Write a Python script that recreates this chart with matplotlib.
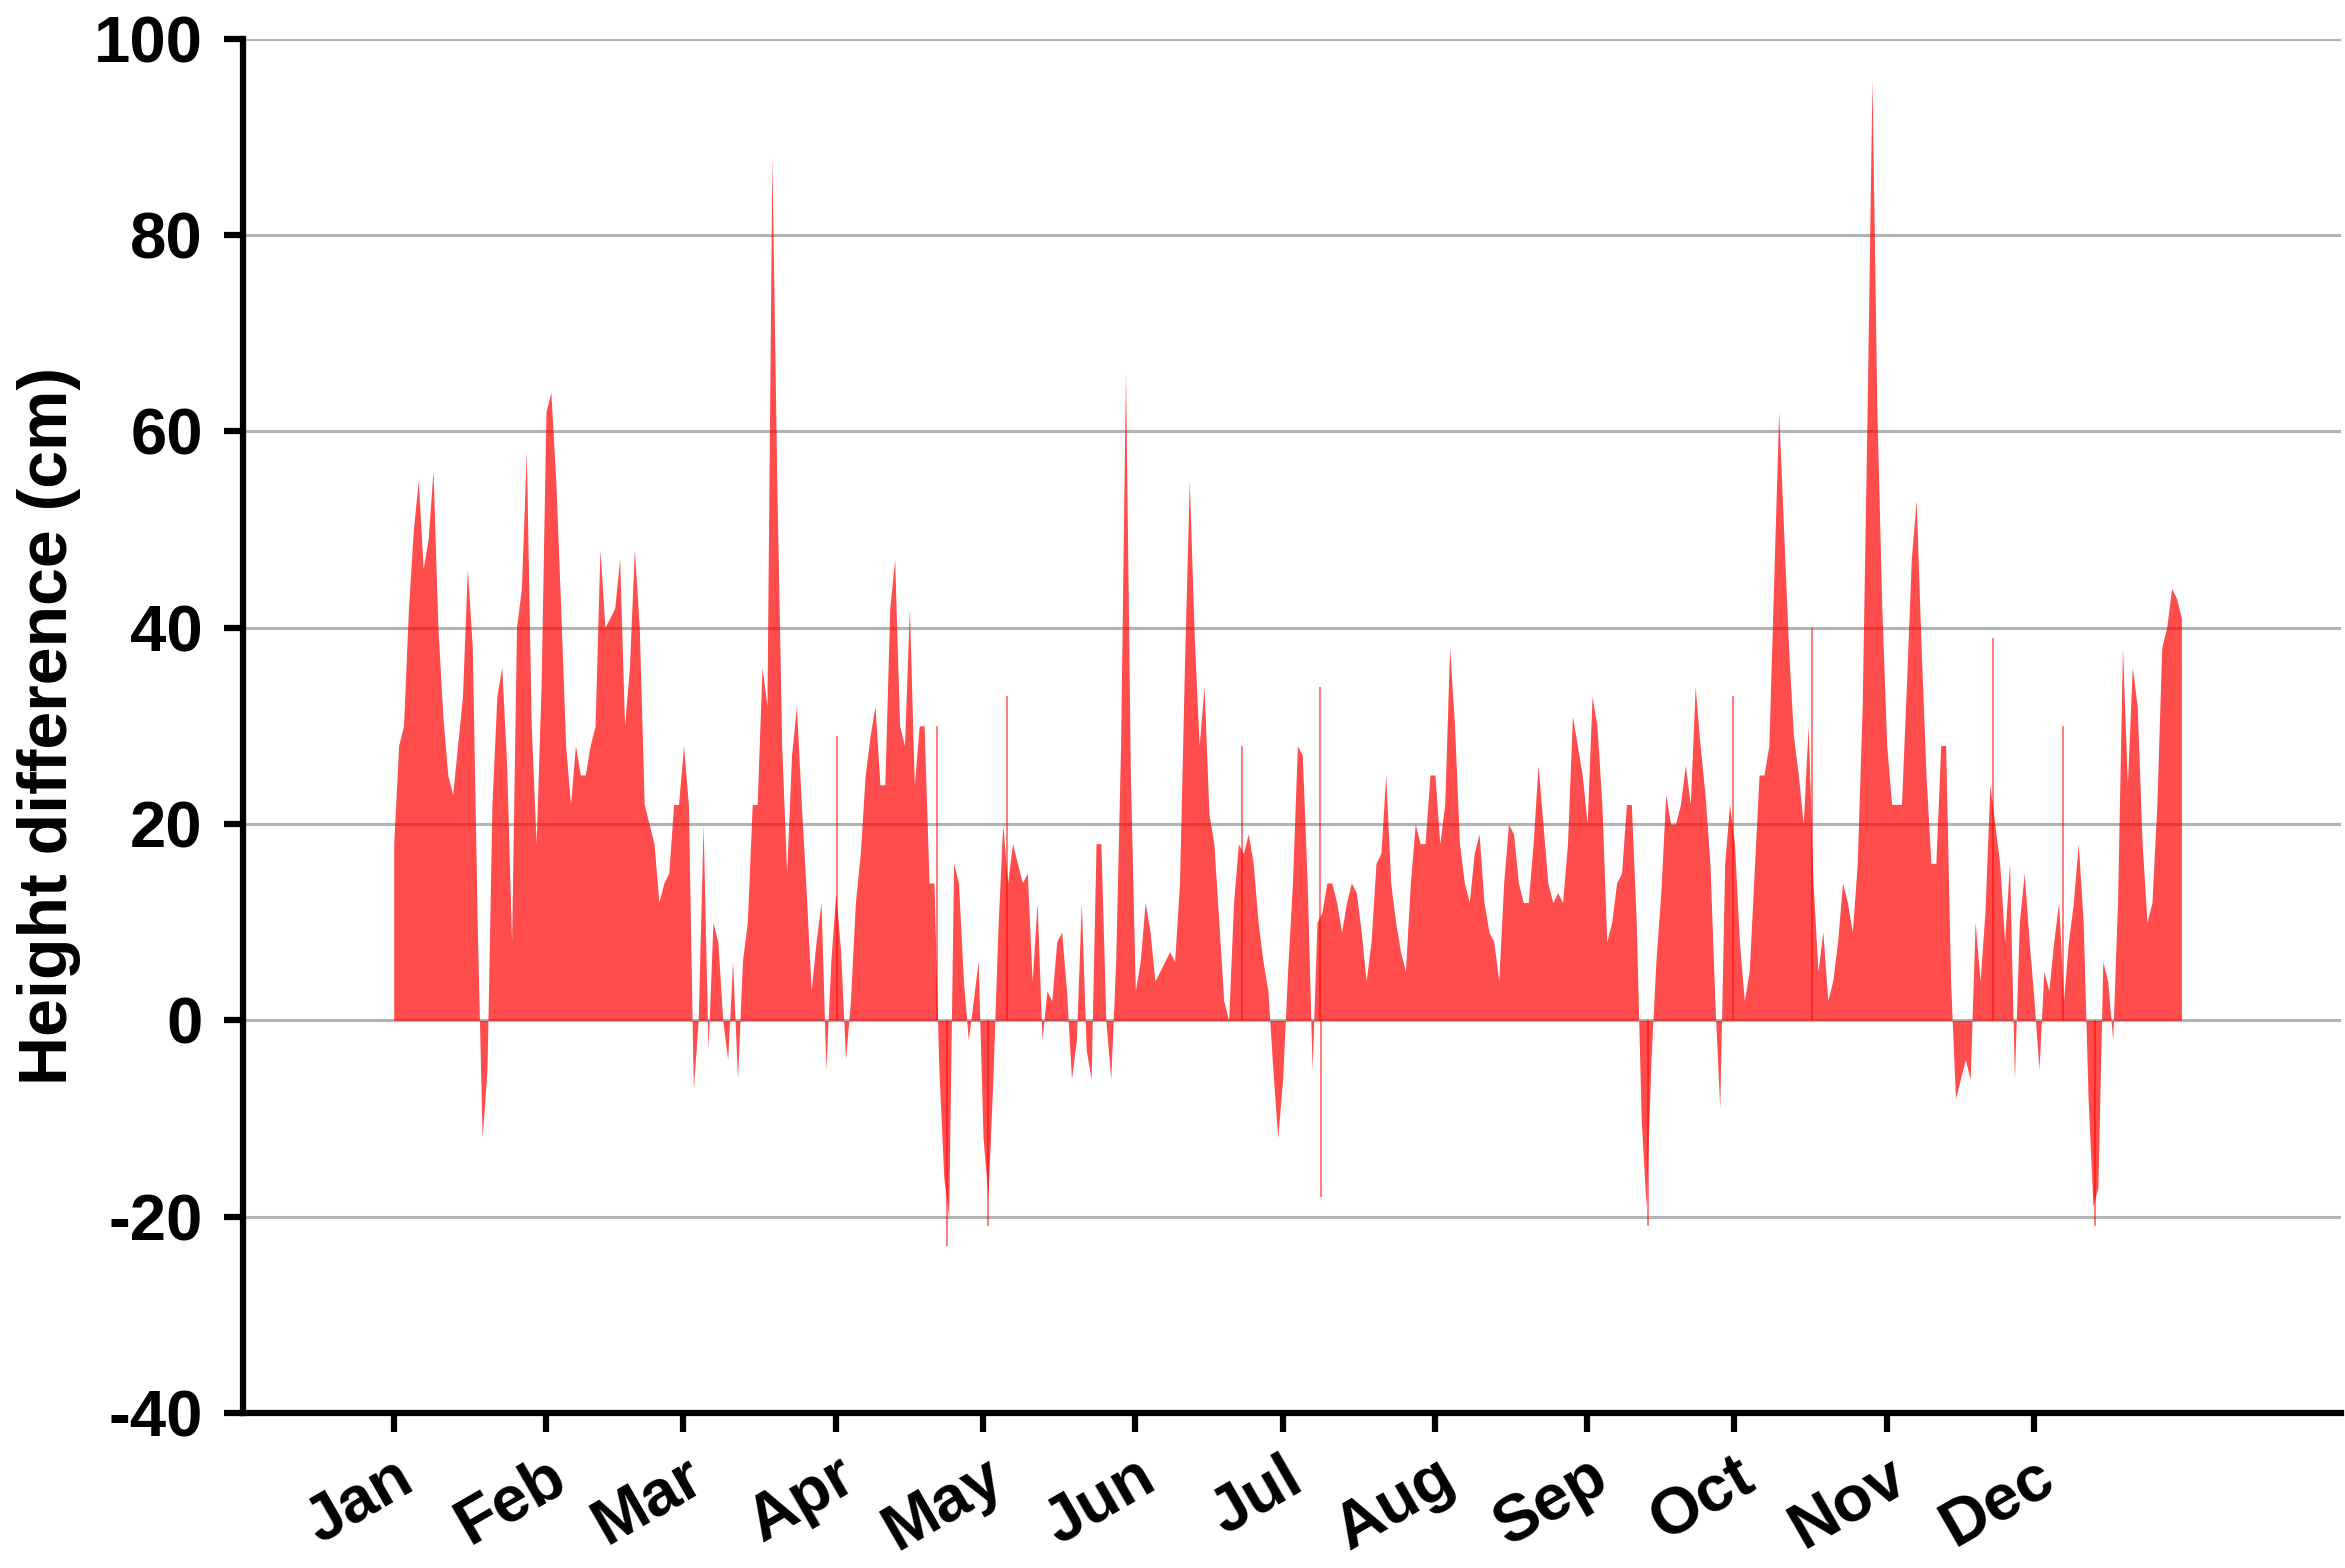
import matplotlib
matplotlib.use('Agg')
import matplotlib.pyplot as plt
import numpy as np

plt.rcParams['font.family'] = 'Liberation Sans'
plt.rcParams['font.weight'] = 'bold'
plt.rcParams['axes.unicode_minus'] = False

months = ['Jan', 'Feb', 'Mar', 'Apr', 'May', 'Jun',
          'Jul', 'Aug', 'Sep', 'Oct', 'Nov', 'Dec']
month_start_day = [0, 31, 59, 90, 120, 151, 181, 212, 243, 273, 304, 334]

# daily height difference (cm)
jan = [18, 28, 30, 42, 50, 55, 46, 49, 56, 40, 31, 25, 23, 28, 33, 46,
       38, 10, -12, -5, 22, 33, 36, 26, 8, 40, 44, 58, 30, 18, 34]
feb = [62, 64, 55, 42, 28, 22, 28, 25, 25, 28, 30, 48, 40, 41, 42, 47,
       30, 36, 48, 40, 22, 20, 18, 12, 14, 15, 22, 22]
mar = [28, 22, -7, 0, 20, -3, 10, 8, 0, -4, 6, -6, 6, 10, 22, 22,
       36, 32, 88, 55, 28, 15, 27, 32, 22, 13, 3, 8, 12, -5, 6]
apr = [13, 7, -4, 2, 12, 17, 25, 29, 32, 24, 24, 42, 47, 30, 28, 42,
       24, 30, 30, 14, 14, -5, -16, -20, 16, 14, 4, -2, 2, 6]
may = [-12, -18, -6, 9, 20, 14, 18, 16, 14, 15, 4, 12, -2, 3, 2, 8,
       9, 3, -6, -2, 12, -3, -6, 18, 18, 0, -6, 6, 28, 66, 25]
jun = [3, 6, 12, 9, 4, 5, 6, 7, 6, 14, 36, 55, 39, 28, 34, 21,
       18, 10, 2, 0, 12, 18, 17, 19, 16, 10, 6, 3, -5, -12]
jul = [-6, 5, 14, 28, 27, 14, -5, 10, 11, 14, 14, 12, 9, 12, 14, 13,
       9, 4, 8, 16, 17, 25, 14, 10, 7, 5, 14, 20, 18, 18, 25]
aug = [25, 18, 22, 38, 30, 18, 14, 12, 17, 19, 12, 9, 8, 4, 14, 20,
       19, 14, 12, 12, 18, 26, 20, 14, 12, 13, 12, 18, 31, 28, 25]
sep = [20, 33, 30, 22, 8, 10, 14, 15, 22, 22, 10, -10, -19, -4, 6, 13,
       23, 20, 20, 22, 26, 22, 34, 28, 23, 16, 2, -9, 16, 22]
oct_ = [18, 8, 2, 5, 15, 25, 25, 28, 45, 62, 50, 38, 29, 25, 20, 30,
        14, 5, 9, 2, 4, 8, 14, 12, 9, 16, 32, 62, 96, 62, 42]
nov = [28, 22, 22, 22, 34, 47, 53, 38, 25, 16, 16, 28, 28, 4, -8, -6,
       -4, -6, 10, 4, 11, 24, 20, 16, 8, 16, -6, 10, 15, 8]
dec = [2, -5, 5, 3, 8, 12, 2, 8, 12, 18, 10, -8, -19, -17, 6, 4,
       -2, 12, 38, 24, 36, 32, 18, 10, 12, 22, 38, 40, 44, 43, 41]

height_cm = jan + feb + mar + apr + may + jun + jul + aug + sep + oct_ + nov + dec
days = np.arange(len(height_cm))

# short-lived hourly extremes that stick out of the daily curve
spike_day = [90.3, 110.6, 112.6, 121.1, 124.9, 172.8, 188.7, 188.9,
             255.4, 272.8, 288.7, 325.7, 339.8, 346.5]
spike_cm = [29, 30, -23, -21, 33, 28, 34, -18,
            -21, 33, 40, 39, 30, -21]

fig = plt.figure(figsize=(23.45, 15.68), dpi=100)
ax = fig.add_axes([0.1036, 0.0989, 0.8947, 0.8763])

ax.fill_between(days, height_cm, 0, color='#ff0000', alpha=0.7, linewidth=0)
ax.vlines(spike_day, 0, spike_cm, color='#ff0000', alpha=0.6, linewidth=1.2)

ax.set_xlim(-30.7, 396.5)
ax.set_ylim(-40, 100)
ax.set_yticks(range(-40, 101, 20))
ax.set_xticks(month_start_day)
ax.set_xticklabels(months, rotation=30, ha='right', va='top',
                   rotation_mode='anchor')

ax.yaxis.grid(True, color='#b4b4b4', linewidth=2.2)
ax.set_axisbelow(True)
ax.spines['top'].set_visible(False)
ax.spines['right'].set_visible(False)
ax.spines['left'].set_linewidth(4.5)
ax.spines['bottom'].set_linewidth(4.5)
ax.tick_params(axis='both', width=4.5, length=14, labelsize=47)
ax.tick_params(axis='y', pad=15)
ax.tick_params(axis='x', pad=10)

ax.set_ylabel('Height difference (cm)', fontsize=49, fontweight='bold')
ax.yaxis.set_label_coords(-0.077, 0.5)

fig.savefig('out.png', dpi=100)
